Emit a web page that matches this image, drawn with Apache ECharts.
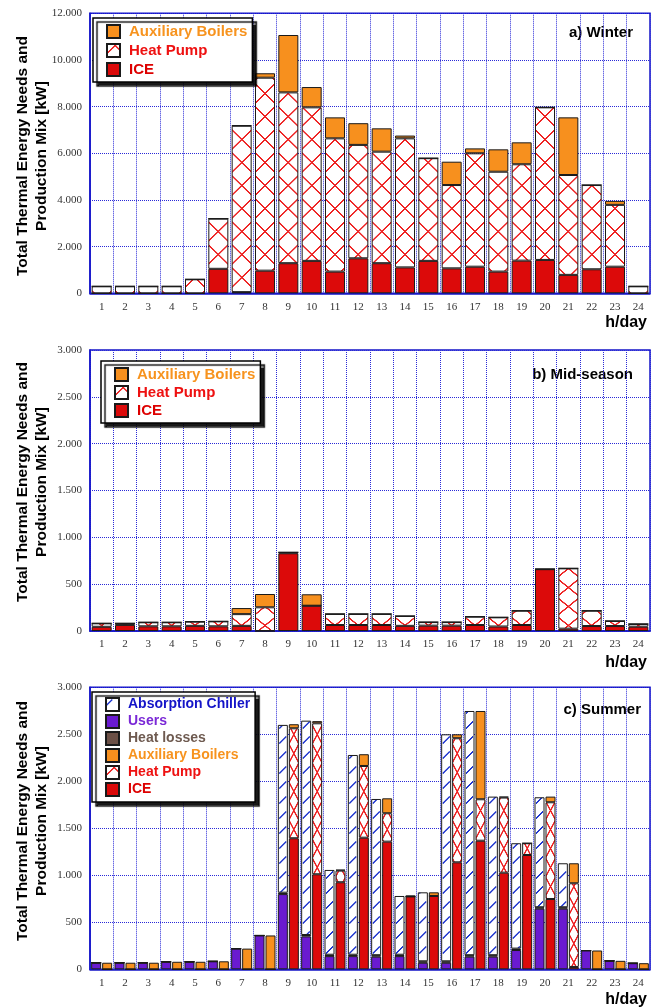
<!DOCTYPE html>
<html><head><meta charset="utf-8">
<script src="https://cdn.jsdelivr.net/npm/echarts@6/dist/echarts.min.js"></script>
<style>html,body{margin:0;padding:0;background:#fff}#c{width:660px;height:1007px}</style>
</head><body><div id="c"></div>
<script>
// ---------- DATA ----------
const hours = ['1','2','3','4','5','6','7','8','9','10','11','12','13','14','15','16','17','18','19','20','21','22','23','24'];

// a) Winter [kW]
const winterICE       = [0,0,0,0,0,1050,50,970,1290,1390,930,1500,1290,1110,1390,1070,1140,930,1400,1430,790,1030,1140,0];
const winterHeatPump  = [300,300,300,300,600,2150,7130,8270,7320,6580,5710,4860,4780,5530,4400,3570,4860,4280,4130,6540,4280,3610,2650,300];
const winterAuxBoiler = [0,0,0,0,0,0,20,190,2460,870,900,930,1000,120,0,1000,210,960,940,0,2470,0,170,0];

// b) Mid-season [kW]
const midICE       = [45,65,50,50,55,50,55,0,830,270,64,64,64,55,57,57,64,48,64,660,25,53,53,46];
const midHeatPump  = [37,17,43,43,45,53,125,253,10,0,118,118,118,105,38,38,89,98,153,0,644,164,54,29];
const midAuxBoiler = [0,0,0,0,0,0,65,142,0,122,0,0,0,0,0,0,0,0,0,0,0,0,0,0];

// c) Summer [kW] - needs (left bar)
const summerUsers      = [70,70,70,80,80,85,220,360,800,350,140,140,135,140,70,70,135,135,205,645,645,200,90,65];
const summerHeatLosses = [0,0,0,0,0,0,0,0,15,15,15,15,15,15,15,15,15,15,15,15,15,0,0,0];
const summerAbsChiller = [0,0,0,0,0,0,0,0,1785,2280,902,2125,1662,625,734,2415,2598,1687,1121,1170,468,0,0,0];
// c) Summer [kW] - production mix (right bar)
const summerICE       = [0,0,0,0,0,0,0,0,1394,1011,926,1400,1358,775,780,1138,1368,1028,1216,748,25,0,0,0];
const summerHeatPump  = [0,0,0,0,0,0,0,0,1170,1606,124,763,302,0,0,1320,441,799,125,1029,890,0,0,0];
const summerAuxBoiler = [70,70,70,80,80,85,220,360,43,23,10,125,159,8,39,42,939,10,0,60,213,200,90,65];

// ---------- STYLE ----------
const C_ICE = '#dc0a0a', C_AUX = '#f7901e', C_USERS = '#6a1ad0', C_LOSS = '#6c5046';
const C_HATCH_R = '#ee2222', C_HATCH_B = '#1f36d0';
const BLUE = '#1515c8', GRIDC = '#2a2ad8';
const SANS = '"Liberation Sans", Arial, Helvetica, sans-serif';
const SERIF = '"Liberation Serif", "DejaVu Serif", "Times New Roman", serif';

const S = 3;
function makeTile(tileW, tileH, draw) {
  const c = document.createElement('canvas');
  c.width = Math.round(tileW * S); c.height = Math.round(tileH * S);
  const g = c.getContext('2d');
  g.fillStyle = '#ffffff'; g.fillRect(0, 0, c.width, c.height);
  draw(g, c.width, c.height);
  return c;
}
function xHatch(tileW, tileH, colW, color, lw) {
  return makeTile(tileW, tileH, (g, W, H) => {
    const w = colW * S;
    g.strokeStyle = color; g.lineWidth = lw * S;
    g.beginPath();
    const dxs = colW === tileW ? [-W, 0, W] : [0];
    for (const dy of [-H, 0, H]) for (const dx of dxs) {
      g.moveTo(dx, dy); g.lineTo(dx + w, dy + H);
      g.moveTo(dx + w, dy); g.lineTo(dx, dy + H);
    }
    g.stroke();
  });
}
function slashHatch(tileW, tileH, color, lw) {
  return makeTile(tileW, tileH, (g, W, H) => {
    g.strokeStyle = color; g.lineWidth = lw * S;
    g.beginPath();
    for (const dy of [-H, 0, H]) {
      g.moveTo(1.5 * S, dy + 11.5 * S); g.lineTo(8.5 * S, dy + 4.5 * S);
    }
    g.stroke();
  });
}
const band = 560 / 24;
const hpA = {image: xHatch(band, 23, band, C_HATCH_R, 1.4), repeat: 'repeat', x: 90, y: 13, scaleX: 1/S, scaleY: 1/S};
const hpB = {image: xHatch(band, 19, band, C_HATCH_R, 1.4), repeat: 'repeat', x: 90, y: 350, scaleX: 1/S, scaleY: 1/S};
const hpC = {image: xHatch(band, 19, 10, C_HATCH_R, 1.4), repeat: 'repeat', x: 90 + band/2 + 0.5, y: 687, scaleX: 1/S, scaleY: 1/S};
const chC = {image: slashHatch(band, 15, C_HATCH_B, 1.4), repeat: 'repeat', x: 90 + band/2 - 10.5, y: 687, scaleX: 1/S, scaleY: 1/S};

function fmt(v) { return v >= 1000 ? Math.floor(v / 1000) + '.' + String(v % 1000).padStart(3, '0') : String(v); }

function xAx(gi) {
  return {type: 'category', gridIndex: gi, data: hours, boundaryGap: true,
    axisLine: {show: true, lineStyle: {color: BLUE, width: 1.5}},
    axisTick: {show: false, interval: 0},
    axisLabel: {interval: 0, margin: 8, color: '#333', fontFamily: SERIF, fontSize: 11},
    splitLine: {show: true, interval: 0, lineStyle: {color: GRIDC, type: 'dotted', width: 1}}};
}
function yAx(gi, max, interval) {
  return {type: 'value', gridIndex: gi, min: 0, max: max, interval: interval,
    axisLine: {show: true, lineStyle: {color: BLUE, width: 1.5}},
    axisTick: {show: false},
    axisLabel: {margin: 8, color: '#333', fontFamily: SERIF, fontSize: 11, formatter: fmt},
    splitLine: {show: true, lineStyle: {color: GRIDC, type: 'dotted', width: 1}}};
}
function bar(name, data, gi, stack, fill, width) {
  return {type: 'bar', name: name, data: data, xAxisIndex: gi, yAxisIndex: gi, stack: stack,
    barWidth: width, barGap: '10%',
    itemStyle: {color: fill, borderColor: '#1a1a1a', borderWidth: 1},
    emphasis: {disabled: true}};
}
function legend(left, top, fontSize, gap, items, pad) {
  return {orient: 'vertical', left: left, top: top, itemWidth: 13, itemHeight: 13, itemGap: gap,
    padding: pad, backgroundColor: '#fff', borderColor: '#000', borderWidth: 1.5,
    shadowColor: 'rgba(0,0,0,0.9)', shadowBlur: 1, shadowOffsetX: 4, shadowOffsetY: 4,
    icon: 'rect', selectedMode: false,
    textStyle: {fontFamily: SANS, fontWeight: 'bold', fontSize: fontSize, padding: [0, 0, 0, 4]},
    data: items.map(([n, c]) => ({name: n, textStyle: {color: c}}))};
}
const yName = 'Total Thermal Energy Needs and\nProduction Mix [kW]';
function txt(x, y, text, size, align, rot) {
  return {type: 'text', x: x, y: y, rotation: rot || 0, silent: true,
    style: {text: text, font: 'bold ' + size + 'px ' + SANS, fill: '#000', align: align, verticalAlign: 'middle', lineHeight: 19}};
}

const chart = echarts.init(document.getElementById('c'), null, {renderer: 'canvas'});
chart.setOption({
  animation: false,
  backgroundColor: '#fff',
  grid: [
    {left: 90, top: 13.3, width: 560, height: 280, show: true, borderColor: BLUE, borderWidth: 1.5},
    {left: 90, top: 350, width: 560, height: 281, show: true, borderColor: BLUE, borderWidth: 1.5},
    {left: 90, top: 687.3, width: 560, height: 282, show: true, borderColor: BLUE, borderWidth: 1.5}
  ],
  xAxis: [xAx(0), xAx(1), xAx(2)],
  yAxis: [yAx(0, 12000, 2000), yAx(1, 3000, 500), yAx(2, 3000, 500)],
  legend: [
    legend(93, 18, 15, 4, [['Auxiliary Boilers', '#f7931e'], ['Heat Pump', '#ee1111'], ['ICE', '#dd0000']], [6, 5, 5, 13]),
    legend(101, 361, 15, 3, [['Auxiliary Boilers', '#f7931e'], ['Heat Pump', '#ee1111'], ['ICE', '#dd0000']], [6, 5, 5, 13]),
    legend(92, 692, 14, 2, [['Absorption Chiller', '#1414c8'], ['Users', '#7a28d6'], ['Heat losses', '#6e5a50'],
      ['Auxiliary Boilers', '#f7931e'], ['Heat Pump', '#ee1111'], ['ICE', '#dd0000']], [5, 5, 5, 13])
  ],
  graphic: [
    txt(32, 156, yName, 15.5, 'center', Math.PI / 2),
    txt(32, 482, yName, 15.5, 'center', Math.PI / 2),
    txt(32, 821, yName, 15.5, 'center', Math.PI / 2),
    txt(633, 33, 'a) Winter', 15, 'right'),
    txt(633, 375, 'b) Mid-season', 15, 'right'),
    txt(641, 710, 'c) Summer', 15, 'right'),
    txt(647, 323, 'h/day', 16, 'right'),
    txt(647, 663, 'h/day', 16, 'right'),
    txt(647, 1000, 'h/day', 16, 'right')
  ],
  series: [
    bar('ICE', winterICE, 0, 'w', C_ICE, 20),
    bar('Heat Pump', winterHeatPump, 0, 'w', hpA, 20),
    bar('Auxiliary Boilers', winterAuxBoiler, 0, 'w', C_AUX, 20),

    bar('ICE', midICE, 1, 'm', C_ICE, 20),
    bar('Heat Pump', midHeatPump, 1, 'm', hpB, 20),
    bar('Auxiliary Boilers', midAuxBoiler, 1, 'm', C_AUX, 20),

    bar('Users', summerUsers, 2, 'sd', C_USERS, 10),
    bar('Heat losses', summerHeatLosses, 2, 'sd', C_LOSS, 10),
    bar('Absorption Chiller', summerAbsChiller, 2, 'sd', chC, 10),
    bar('ICE', summerICE, 2, 'sp', C_ICE, 10),
    bar('Heat Pump', summerHeatPump, 2, 'sp', hpC, 10),
    bar('Auxiliary Boilers', summerAuxBoiler, 2, 'sp', C_AUX, 10)
  ]
});
</script>
</body></html>
